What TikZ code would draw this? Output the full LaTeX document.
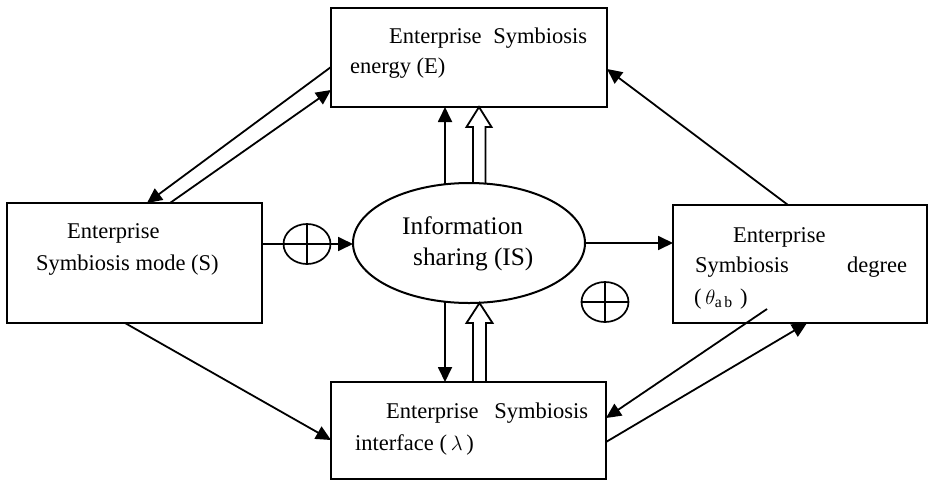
\documentclass[tikz,border=0pt]{standalone}
\usepackage{fontspec}
\setmainfont{Liberation Serif}
\usetikzlibrary{shapes.geometric,arrows.meta,calc}
\begin{document}
\begin{tikzpicture}[x=1pt,y=-1pt,
  box/.style={draw,line width=2pt,rectangle,inner sep=0pt,outer sep=0pt},
  oval/.style={draw,line width=2pt,ellipse,inner sep=0pt,outer sep=0pt},
  oplus/.style={draw,line width=1.7pt,ellipse,inner sep=0pt,outer sep=0pt,minimum width=47pt,minimum height=40pt},
  txt/.style={anchor=base west,inner sep=0pt,font=\fontsize{22.5}{27}\selectfont},
  bigtxt/.style={anchor=base west,inner sep=0pt,font=\fontsize{25.3}{30}\selectfont},
  arr/.style={line width=1.8pt,-{Triangle[length=15pt,width=14pt]}},
  ln/.style={line width=1.8pt},
  hollow/.style={line width=1.8pt,line join=miter}]
\useasboundingbox (0,0) rectangle (931,482);

% boxes
\node[box,minimum width=276pt,minimum height=99pt] (E) at (469,57.5) {};
\node[box,minimum width=255pt,minimum height=120pt] (S) at (134.5,263) {};
\node[box,minimum width=254pt,minimum height=118pt] (T) at (800,264) {};
\node[box,minimum width=275pt,minimum height=97pt] (L) at (468.5,430.5) {};
\node[oval,minimum width=232pt,minimum height=120pt] (IS) at (469,243) {};

% circled plus signs
\node[oplus] (P1) at (307,244) {};
\draw[line width=1.7pt] (P1.north) -- (P1.south) (P1.west) -- (P1.east);
\node[oplus] (P2) at (605,302) {};
\draw[line width=1.7pt] (P2.north) -- (P2.south) (P2.west) -- (P2.east);

% labels
\node[txt] (e1) at (389,43) {\makebox[198pt][s]{Enterprise Symbiosis}};
\node[txt] (e2) at (350,73) {energy (E)};
\node[txt] (s1) at (67,238) {Enterprise};
\node[txt] (s2) at (36,270) {Symbiosis mode (S)};
\node[txt] (t1) at (733,242) {Enterprise};
\node[txt] (t2) at (695,272) {\makebox[212pt][s]{Symbiosis degree}};
\node[txt] (t3) at (694,304) {(\,$\theta_{\mathrm{a\,b}}$\,\,)};
\node[txt] (l1) at (386,418) {\makebox[202pt][s]{Enterprise Symbiosis}};
\node[txt] (l2) at (355,450) {interface (\,$\lambda$\,)};
\node[bigtxt] (i1) at (402,234) {Information};
\node[bigtxt] (i2) at (413,265) {sharing (IS)};

% S <-> E
\draw[arr] ($(E.south west)+(0,-40)$) -- ($(S.north west)+(140,0)$);
\draw[arr] ($(S.north west)+(163,0)$) -- ($(E.south west)+(0,-17)$);
% T -> E
\draw[arr] ($(T.north west)+(115,0)$) -- ($(E.north east)+(0,61)$);
% S -> (+) -> IS -> T
\draw[ln] ($(S.north east)+(0,41)$) -- (P1.west);
\draw[arr] (P1.east) -- ($(IS.west)+(0,1)$);
\draw[arr] (IS.east) -- ($(T.north west)+(0,38)$);
% S -> L
\draw[arr] ($(S.south west)+(118,0)$) -- ($(L.north west)+(0,58)$);
% T <-> L
\coordinate (tstart) at (767,309);
\draw[arr] (tstart) -- ($(L.north east)+(0,36)$);
\draw[arr] ($(L.north east)+(0,60)$) -- ($(T.south west)+(134,0)$);

% IS <-> E
\draw[arr] ($(IS.north)+(-24,1.3)$) -- ($(E.south)+(-24,0)$);
\draw[hollow] ($(IS.north)+(4,0)$) -- ($(E.south)+(4,20)$) -- ($(E.south)+(-2.5,20)$)
  -- ($(E.south)+(10,0)$) -- ($(E.south)+(22.5,20)$) -- ($(E.south)+(16.5,20)$) -- ($(IS.north)+(16.5,0.5)$);
% IS <-> L
\draw[arr] ($(IS.south)+(-24,-1.3)$) -- ($(L.north)+(-23.5,0)$);
\draw[hollow] ($(L.north)+(4.5,0)$) -- ($(IS.south)+(4,20)$) -- ($(IS.south)+(-2.5,20)$)
  -- ($(IS.south)+(10.5,0)$) -- ($(IS.south)+(23.5,20)$) -- ($(IS.south)+(17,20)$) -- ($(L.north)+(17.5,0)$);
\end{tikzpicture}
\end{document}
